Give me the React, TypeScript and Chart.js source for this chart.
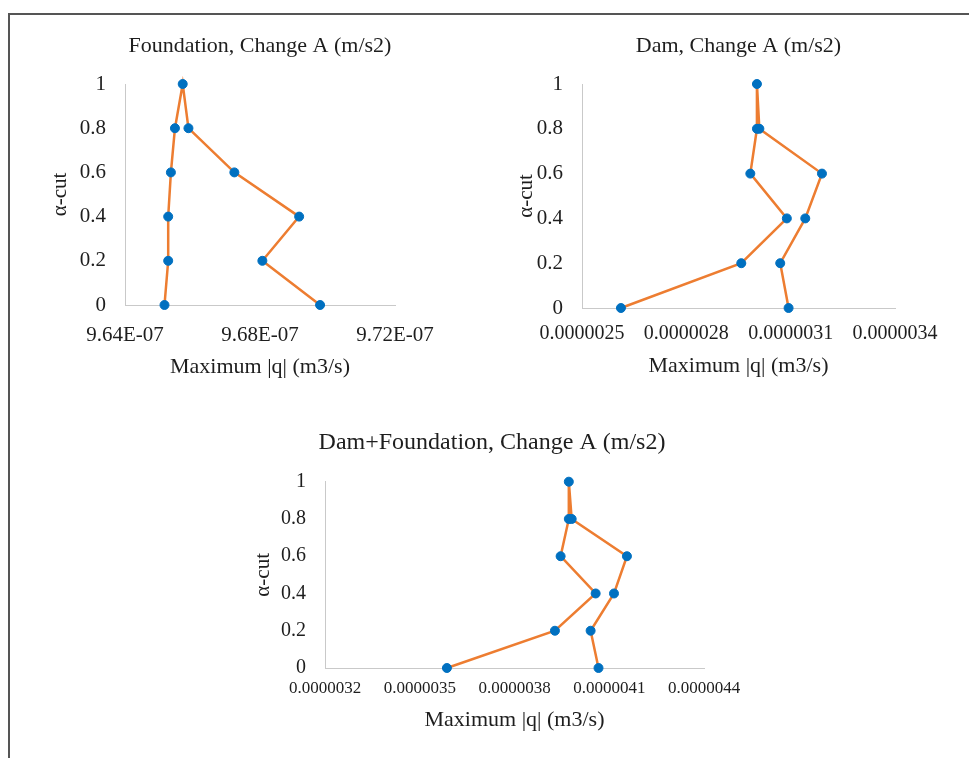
import React, { useEffect, useRef } from 'react';
import { Chart, registerables } from 'chart.js';

Chart.register(...registerables);

// ---- data ----
const ALPHA_CUTS = [0, 0.2, 0.4, 0.6, 0.8, 1, 0.8, 0.6, 0.4, 0.2, 0];
const FOUNDATION_Q = [9.6517e-7, 9.6528e-7, 9.6528e-7, 9.6536e-7, 9.6548e-7, 9.6571e-7, 9.6588e-7, 9.6724e-7, 9.6916e-7, 9.6807e-7, 9.6978e-7];
const DAM_Q = [2.612e-6, 2.958e-6, 3.089e-6, 2.984e-6, 3.003e-6, 3.003e-6, 3.010e-6, 3.190e-6, 3.142e-6, 3.070e-6, 3.094e-6];
const DAM_FOUNDATION_Q = [3.586e-6, 3.928e-6, 4.057e-6, 3.946e-6, 3.972e-6, 3.972e-6, 3.981e-6, 4.156e-6, 4.115e-6, 4.041e-6, 4.066e-6];

const Y_TICKS = [0, 0.2, 0.4, 0.6, 0.8, 1];
const Y_TICK_LABELS = ['0', '0.2', '0.4', '0.6', '0.8', '1'];
const FOUNDATION_X_TICKS = [9.64e-7, 9.68e-7, 9.72e-7];
const FOUNDATION_X_LABELS = ['9.64E-07', '9.68E-07', '9.72E-07'];
const DAM_X_TICKS = [2.5e-6, 2.8e-6, 3.1e-6, 3.4e-6];
const DAM_X_LABELS = ['0.0000025', '0.0000028', '0.0000031', '0.0000034'];
const DF_X_TICKS = [3.2e-6, 3.5e-6, 3.8e-6, 4.1e-6, 4.4e-6];
const DF_X_LABELS = ['0.0000032', '0.0000035', '0.0000038', '0.0000041', '0.0000044'];

const TITLE_FOUNDATION = 'Foundation, Change A (m/s2)';
const TITLE_DAM = 'Dam, Change A (m/s2)';
const TITLE_DF = 'Dam+Foundation, Change A (m/s2)';
const X_TITLE = 'Maximum |q| (m3/s)';
const Y_TITLE = 'α-cut';

// ---- style ----
const SERIF = "'Liberation Serif', 'Times New Roman', serif";
const TEXT = '#1e1e1e';
const AXIS = '#c9c9c9';
const LINE = '#ED7D31';
const MARKER = '#0070C0';

type PanelProps = {
  q: number[];
  xTicks: number[];
  xLabels: string[];
  title: string;
  left: number; top: number; width: number; height: number;
  padRight: number;
  yAxisWidth: number;
  xAxisHeight: number;
  titleSize: number;
  titlePadTop: number;
  titlePadBottom: number;
  titleFullSize: boolean;
  yTitlePadTop: number;
  xTickPad: number;
  xTickSize: number;
  yTickSize: number;
  rightSpacer?: number;
};

function Panel(p: PanelProps) {
  const ref = useRef<HTMLCanvasElement | null>(null);
  useEffect(() => {
    if (!ref.current) return;
    const font = (size: number) => ({ family: SERIF, size, weight: 'normal' as const });
    const points = ALPHA_CUTS.map((a, i) => ({ x: p.q[i], y: a }));
    const scales: any = {
      x: {
        type: 'linear',
        position: 'bottom',
        min: p.xTicks[0],
        max: p.xTicks[p.xTicks.length - 1],
        grid: { display: false, drawTicks: false },
        border: { display: true, color: AXIS, width: 1 },
        afterBuildTicks: (s: any) => { s.ticks = p.xTicks.map((v) => ({ value: v })); },
        afterFit: (s: any) => { s.height = p.xAxisHeight; },
        ticks: {
          padding: p.xTickPad, color: TEXT, font: font(p.xTickSize),
          maxRotation: 0, minRotation: 0, autoSkip: false,
          callback: (_v: any, i: number) => p.xLabels[i],
        },
        title: { display: true, text: X_TITLE, color: TEXT, font: font(22), padding: { top: 0, bottom: 6 } },
      },
      y: {
        type: 'linear',
        position: 'left',
        min: 0,
        max: 1,
        grid: { display: false, drawTicks: false },
        border: { display: true, color: AXIS, width: 1 },
        afterBuildTicks: (s: any) => { s.ticks = Y_TICKS.map((v) => ({ value: v })); },
        afterFit: (s: any) => { s.width = p.yAxisWidth; },
        ticks: {
          padding: 19, color: TEXT, font: font(p.yTickSize), autoSkip: false,
          callback: (_v: any, i: number) => Y_TICK_LABELS[i],
        },
        title: { display: true, text: Y_TITLE, color: TEXT, font: font(21), padding: { top: p.yTitlePadTop, bottom: 0 } },
      },
    };
    if (p.rightSpacer) {
      scales.y2 = {
        type: 'linear',
        position: 'right',
        display: true,
        grid: { display: false, drawTicks: false },
        border: { display: false },
        ticks: { display: false },
        afterFit: (s: any) => { s.width = p.rightSpacer; },
      };
    }
    const chart = new Chart(ref.current, {
      type: 'scatter',
      data: {
        datasets: [{
          data: points,
          showLine: true,
          borderColor: LINE,
          borderWidth: 2.5,
          backgroundColor: MARKER,
          pointBackgroundColor: MARKER,
          pointBorderColor: MARKER,
          pointBorderWidth: 1,
          pointRadius: 4.5,
          tension: 0,
          clip: false as any,
        }],
      },
      options: {
        animation: false,
        responsive: false,
        devicePixelRatio: 1,
        layout: { padding: { left: 0, right: p.padRight, top: 0, bottom: 0 } },
        plugins: {
          legend: { display: false },
          tooltip: { enabled: false },
          title: {
            display: true,
            text: p.title,
            color: TEXT,
            font: font(p.titleSize),
            padding: { top: p.titlePadTop, bottom: p.titlePadBottom },
            fullSize: p.titleFullSize,
          },
        },
        scales,
      } as any,
    });
    return () => chart.destroy();
  }, []);
  return (
    <canvas
      ref={ref}
      width={p.width}
      height={p.height}
      style={{ position: 'absolute', left: p.left, top: p.top, width: p.width, height: p.height }}
    />
  );
}

export default function App() {
  return (
    <div style={{ position: 'absolute', left: 0, top: 0, width: 969, height: 758, overflow: 'hidden', background: '#fff' }}>
      <div style={{ position: 'absolute', left: 8, top: 13, width: 1000, height: 800, borderLeft: '2px solid #555', borderTop: '2px solid #555' }} />
      <Panel
        q={FOUNDATION_Q} xTicks={FOUNDATION_X_TICKS} xLabels={FOUNDATION_X_LABELS} title={TITLE_FOUNDATION}
        left={20} top={20} width={440} height={366} padRight={65}
        yAxisWidth={105} xAxisHeight={81}
        titleSize={22} titlePadTop={12.8} titlePadBottom={24.8} titleFullSize={false}
        yTitlePadTop={27.4} xTickPad={17.4} xTickSize={21} yTickSize={21}
      />
      <Panel
        q={DAM_Q} xTicks={DAM_X_TICKS} xLabels={DAM_X_LABELS} title={TITLE_DAM}
        left={480} top={20} width={480} height={365} padRight={65}
        yAxisWidth={102} xAxisHeight={77}
        titleSize={22} titlePadTop={12.8} titlePadBottom={24.8} titleFullSize={false}
        yTitlePadTop={33.4} xTickPad={14} xTickSize={20} yTickSize={21}
      />
      <Panel
        q={DAM_FOUNDATION_Q} xTicks={DF_X_TICKS} xLabels={DF_X_LABELS} title={TITLE_DF}
        left={240} top={415} width={514} height={324} padRight={10} rightSpacer={40}
        yAxisWidth={85} xAxisHeight={71}
        titleSize={24} titlePadTop={13.6} titlePadBottom={24.3} titleFullSize={true}
        yTitlePadTop={10.4} xTickPad={10} xTickSize={17} yTickSize={20}
      />
    </div>
  );
}
